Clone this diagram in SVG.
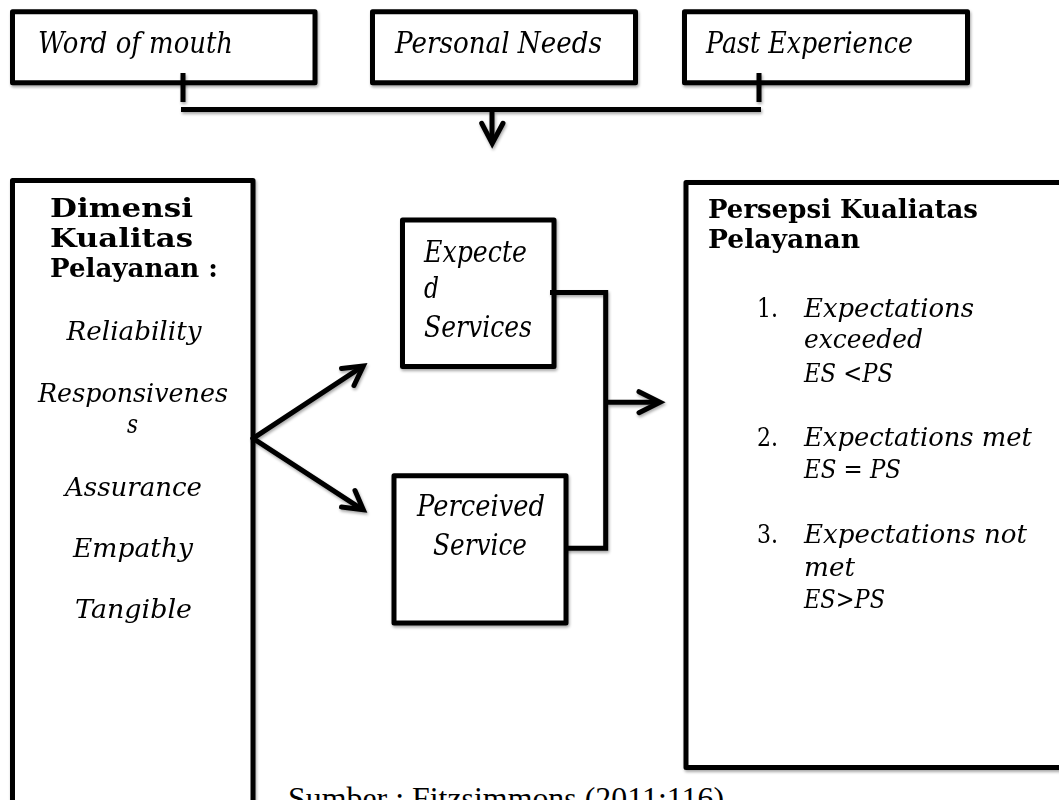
<svg xmlns="http://www.w3.org/2000/svg" width="1059" height="800" viewBox="0 0 1059 800">
<defs>
<style>
.box{fill:#fff;stroke:#000;stroke-width:5;stroke-linejoin:round}
.ln{fill:none;stroke:#000;stroke-width:5;stroke-linejoin:miter}
.t{font-family:"DejaVu Serif","Liberation Serif",serif;fill:#000}
.i{font-style:italic}
.b{font-weight:bold}
.big{font-size:30px}
.body{font-size:26px}
.src{font-family:"Liberation Serif","Times New Roman",serif;font-size:32px;fill:#000}
</style>
<filter id="sh" x="-10%" y="-10%" width="130%" height="130%">
<feGaussianBlur in="SourceAlpha" stdDeviation="1.5"/>
<feOffset dx="1" dy="2" result="o"/>
<feComponentTransfer><feFuncA type="linear" slope="0.35"/></feComponentTransfer>
<feMerge><feMergeNode/><feMergeNode in="SourceGraphic"/></feMerge>
</filter>
</defs>
<rect width="1059" height="800" fill="#fff"/>

<g id="word-of-mouth" filter="url(#sh)">
<rect class="box" x="12.5" y="11.7" width="302.5" height="71"/>
<text class="t i big" x="38" y="53.3" textLength="195" lengthAdjust="spacingAndGlyphs">Word of mouth</text>
</g>
<g id="personal-needs" filter="url(#sh)">
<rect class="box" x="372.5" y="11.7" width="263" height="71"/>
<text class="t i big" x="395" y="53.3" textLength="207" lengthAdjust="spacingAndGlyphs">Personal Needs</text>
</g>
<g id="past-experience" filter="url(#sh)">
<rect class="box" x="684.5" y="11.7" width="283" height="71"/>
<text class="t i big" x="706" y="53.3" textLength="207" lengthAdjust="spacingAndGlyphs">Past Experience</text>
</g>

<g id="dimensi" filter="url(#sh)">
<rect class="box" x="12.5" y="180.5" width="240.5" height="700"/>
<text class="t b body" x="50" y="216.7" textLength="143" lengthAdjust="spacingAndGlyphs">Dimensi</text>
<text class="t b body" x="50" y="246.7" textLength="143" lengthAdjust="spacingAndGlyphs">Kualitas</text>
<text class="t b body" x="50" y="277" textLength="168" lengthAdjust="spacingAndGlyphs">Pelayanan :</text>
<g class="t i body" text-anchor="middle">
<text x="134" y="340" textLength="135" lengthAdjust="spacingAndGlyphs">Reliability</text>
<text x="133" y="401.7" textLength="190" lengthAdjust="spacingAndGlyphs">Responsivenes</text>
<text x="132.5" y="433" textLength="11" lengthAdjust="spacingAndGlyphs">s</text>
<text x="133.5" y="496" textLength="137" lengthAdjust="spacingAndGlyphs">Assurance</text>
<text x="133" y="556.7" textLength="120" lengthAdjust="spacingAndGlyphs">Empathy</text>
<text x="133.5" y="618" textLength="117" lengthAdjust="spacingAndGlyphs">Tangible</text>
</g>
</g>

<g id="expected-services" filter="url(#sh)">
<rect class="box" x="402.5" y="220" width="151.5" height="146.5"/>
<text class="t i big" x="424" y="261.7" textLength="103" lengthAdjust="spacingAndGlyphs">Expecte</text>
<text class="t i big" x="424" y="298" textLength="15" lengthAdjust="spacingAndGlyphs">d</text>
<text class="t i big" x="424" y="336.7" textLength="108" lengthAdjust="spacingAndGlyphs">Services</text>
</g>

<g id="perceived-service" filter="url(#sh)">
<rect class="box" x="394" y="475.7" width="172" height="147.3"/>
<text class="t i big" x="481" y="516" text-anchor="middle" textLength="128" lengthAdjust="spacingAndGlyphs">Perceived</text>
<text class="t i big" x="480" y="555" text-anchor="middle" textLength="94" lengthAdjust="spacingAndGlyphs">Service</text>
</g>

<g id="persepsi" filter="url(#sh)">
<rect class="box" x="686" y="182.5" width="420" height="585"/>
<text class="t b body" x="708" y="218.3" textLength="270" lengthAdjust="spacingAndGlyphs">Persepsi Kualiatas</text>
<text class="t b body" x="708" y="248.3" textLength="152" lengthAdjust="spacingAndGlyphs">Pelayanan</text>
<g class="t body">
<text x="757" y="316.7" textLength="21" lengthAdjust="spacingAndGlyphs">1.</text>
<text x="757" y="446" textLength="21" lengthAdjust="spacingAndGlyphs">2.</text>
<text x="757" y="543.3" textLength="21" lengthAdjust="spacingAndGlyphs">3.</text>
</g>
<g class="t i body">
<text x="804" y="316.7" textLength="170" lengthAdjust="spacingAndGlyphs">Expectations</text>
<text x="804" y="348.3" textLength="119" lengthAdjust="spacingAndGlyphs">exceeded</text>
<text x="804" y="381.7" textLength="89" lengthAdjust="spacingAndGlyphs">ES &lt;PS</text>
<text x="804" y="446" textLength="228" lengthAdjust="spacingAndGlyphs">Expectations met</text>
<text x="804" y="478.3" textLength="97" lengthAdjust="spacingAndGlyphs">ES = PS</text>
<text x="804" y="543.3" textLength="223" lengthAdjust="spacingAndGlyphs">Expectations not</text>
<text x="804" y="576" textLength="51" lengthAdjust="spacingAndGlyphs">met</text>
<text x="804" y="608.3" textLength="81" lengthAdjust="spacingAndGlyphs">ES&gt;PS</text>
</g>
</g>

<g id="connectors" filter="url(#sh)">
<line class="ln" x1="183" y1="73" x2="183" y2="102"/>
<line class="ln" x1="759" y1="73" x2="759" y2="102"/>
<line class="ln" x1="181" y1="109.5" x2="761" y2="109.5"/>
<line class="ln" x1="492" y1="109.5" x2="492" y2="142"/>
<polyline class="ln" points="481.7,123.3 492.2,143.5 503,123.3" stroke-linejoin="round" stroke-linecap="round"/>

<line class="ln" x1="253" y1="438.3" x2="361" y2="367.3" stroke-linecap="round"/>
<polyline class="ln" points="341.5,368.5 363.3,366 354,385.5" stroke-linejoin="round" stroke-linecap="round"/>
<line class="ln" x1="253" y1="438.3" x2="361" y2="508.7" stroke-linecap="round"/>
<polyline class="ln" points="355,490.5 363.3,509.7 341.5,507" stroke-linejoin="round" stroke-linecap="round"/>

<polyline class="ln" points="550,292.5 605.7,292.5 605.7,548.3 566,548.3"/>
<line class="ln" x1="605.7" y1="402.3" x2="657" y2="402.3"/>
<polyline class="ln" points="639,391.7 660,402.3 639,412.7" stroke-linejoin="round" stroke-linecap="round"/>
</g>

<text class="src" x="288" y="809" textLength="436" lengthAdjust="spacingAndGlyphs">Sumber : Fitzsimmons (2011:116)</text>
</svg>
